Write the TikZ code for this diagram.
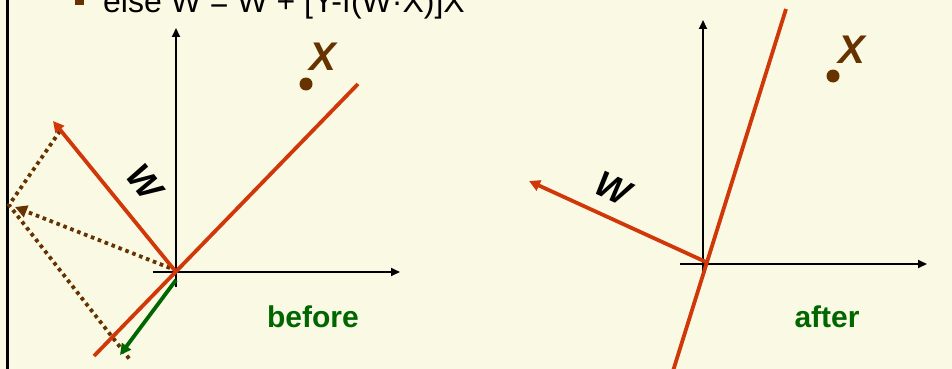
\documentclass[tikz,border=0pt]{standalone}
\usepackage{fontspec}
\setmainfont{Liberation Sans}
\usetikzlibrary{arrows.meta}
\definecolor{bg}{RGB}{250,250,228}
\definecolor{redl}{RGB}{208,56,10}
\definecolor{brn}{RGB}{102,51,0}
\definecolor{grn}{RGB}{0,102,0}
\begin{document}
\begin{tikzpicture}[x=1pt,y=-1pt,
  axis/.style={line width=1.8pt,-{Triangle[length=9pt,width=8pt]}},
  redline/.style={redl,line width=3.8pt},
  redvec/.style={redl,line width=3.8pt,-{Triangle[length=11pt,width=11pt]}},
  dotline/.style={brn,line width=3.8pt,dash pattern=on 3.6pt off 3.8pt},
  dotvec/.style={dotline,-{Triangle[length=12pt,width=12pt]}},
  greenvec/.style={grn,line width=3.8pt,-{Triangle[length=11pt,width=11pt]}},
  xlab/.style={brn,inner sep=0pt,font=\fontsize{40}{44}\selectfont\bfseries\itshape},
  wlab/.style={black,inner sep=0pt,font=\fontsize{36}{40}\selectfont\bfseries\itshape},
  caption/.style={grn,inner sep=0pt,font=\fontsize{30}{34}\selectfont\bfseries},
  pt/.style={brn}]
\fill[bg] (0,0) rectangle (952,369);
\useasboundingbox (0,0) rectangle (952,369);
\draw[line width=3pt] (7.5,0) -- (7.5,369);
% title line
\fill[brn] (75,-4) rectangle (84,5);
\node[anchor=base west,inner sep=0pt,font=\fontsize{32}{38}\selectfont] (title) at (103,13) {else W = W + [Y-f(W·X)]X};
% ---------- before ----------
\coordinate (o1) at (176,272);
\coordinate (yb1) at (176,287); \coordinate (yt1) at (176,28);
\coordinate (xb1) at (153,272); \coordinate (xt1) at (400,272);
\draw[axis] (yb1) -- (yt1);
\draw[axis] (xb1) -- (xt1);
\coordinate (wt1) at (60,131);
\coordinate (c1) at (9,205);
\coordinate (d1) at (131,361);
\coordinate (ds1) at (170,268);
\coordinate (dt1) at (15,207);
\draw[dotline] (wt1) -- (c1) -- (d1);
\draw[dotvec] (ds1) -- (dt1);
\coordinate (la1) at (94,356); \coordinate (lb1) at (358,84);
\draw[redline] (la1) -- (lb1);
\coordinate (w1) at (53,121);
\draw[redvec] (o1) -- (w1);
\coordinate (gs1) at (176,280); \coordinate (gt1) at (120,355);
\draw[greenvec] (gs1) -- (gt1);
\fill[pt] (306,84) circle (6.5);
\node[xlab] (X1) at (323,57) {X};
\node[wlab,rotate=-52] (W1) at (145,182) {W};
\node[caption] (before) at (313,317) {before};
% ---------- after ----------
\coordinate (o2) at (706,262);
\coordinate (yb2) at (703,279); \coordinate (yt2) at (703,20);
\coordinate (xb2) at (680,264); \coordinate (xt2) at (927,264);
\draw[axis] (yb2) -- (yt2);
\draw[axis] (xb2) -- (xt2);
\coordinate (la2) at (673,371); \coordinate (lb2) at (786,9);
\draw[redline] (la2) -- (lb2);
\coordinate (w2) at (529,181);
\draw[redvec] (o2) -- (w2);
\fill[pt] (833,76) circle (6.5);
\node[xlab] (X2) at (852,50) {X};
\node[wlab,rotate=-25] (W2) at (613,188) {W};
\node[caption] (after) at (827,317) {after};
\end{tikzpicture}
\end{document}
